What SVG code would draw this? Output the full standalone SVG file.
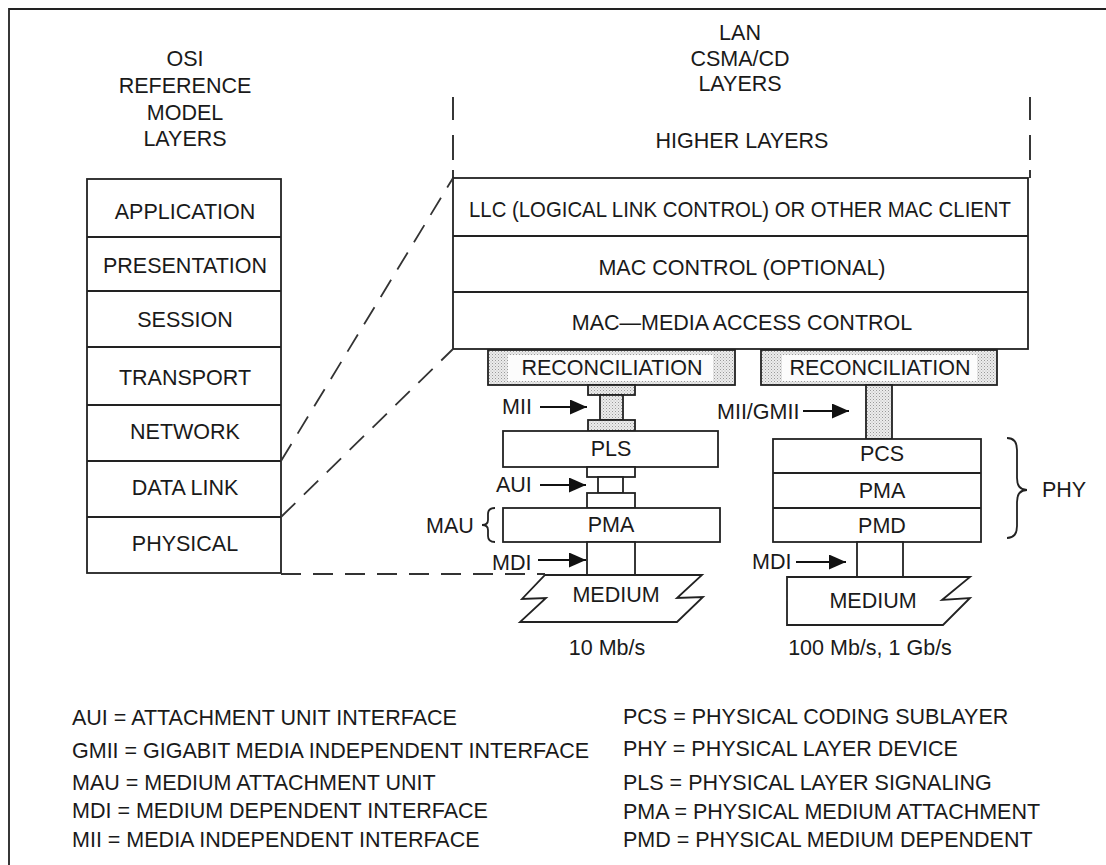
<svg xmlns="http://www.w3.org/2000/svg" width="1106" height="865" viewBox="0 0 1106 865">
<defs>
<pattern id="stip" width="3" height="3" patternUnits="userSpaceOnUse">
<rect width="3" height="3" fill="#ececec"/>
<rect x="0" y="0" width="1" height="1" fill="#999"/>
<rect x="1.5" y="1.5" width="1" height="1" fill="#b4b4b4"/>
</pattern>
<marker id="arr" markerWidth="18" markerHeight="16" refX="17" refY="7.5" orient="auto" markerUnits="userSpaceOnUse">
<path d="M0,0 L17,7.5 L0,15 z" fill="#111"/>
</marker>
</defs>
<style>
text{font-family:"Liberation Sans",Arial,sans-serif;font-size:21.5px;fill:#1a1a1a;}
.c{text-anchor:middle;}
.box{fill:#fff;stroke:#222;stroke-width:1.8;}
.st{fill:url(#stip);stroke:#222;stroke-width:1.8;}
.ln{fill:none;stroke:#222;stroke-width:1.8;}
.dash{fill:none;stroke:#333;stroke-width:1.8;stroke-dasharray:20 12;}
.arrow{fill:none;stroke:#111;stroke-width:1.8;marker-end:url(#arr);}
.inner{fill:#fcfcfc;stroke:none;}
</style>
<rect width="1106" height="865" fill="#fff"/>
<g id="border">
<path class="ln" d="M9,865 L9,9 L1106,9"/>
</g>

<g id="osi-title">
<text class="c" x="185" y="66">OSI</text>
<text class="c" x="185" y="93">REFERENCE</text>
<text class="c" x="185" y="120">MODEL</text>
<text class="c" x="185" y="146">LAYERS</text>
</g>

<g id="osi-stack">
<rect class="box" x="87" y="179" width="194" height="394"/>
<path class="ln" d="M87,237 H281 M87,291 H281 M87,347 H281 M87,405 H281 M87,461 H281 M87,517 H281"/>
<text class="c" x="185" y="219">APPLICATION</text>
<text class="c" x="185" y="273">PRESENTATION</text>
<text class="c" x="185" y="327">SESSION</text>
<text class="c" x="185" y="385">TRANSPORT</text>
<text class="c" x="185" y="439">NETWORK</text>
<text class="c" x="185" y="495">DATA LINK</text>
<text class="c" x="185" y="551">PHYSICAL</text>
</g>

<g id="lan-title">
<text class="c" x="740" y="40">LAN</text>
<text class="c" x="740" y="66">CSMA/CD</text>
<text class="c" x="740" y="91">LAYERS</text>
</g>

<g id="higher-layers">
<path class="ln" d="M453,97 V120 M453,135 V160 M453,170 V178 M1030,97 V120 M1030,135 V160 M1030,170 V178" />
<text class="c" x="742" y="148">HIGHER LAYERS</text>
</g>

<g id="lan-stack">
<rect class="box" x="453" y="178" width="575" height="171"/>
<path class="ln" d="M453,236 H1028 M453,292 H1028"/>
<text class="c" x="740" y="217" textLength="542" lengthAdjust="spacingAndGlyphs">LLC (LOGICAL LINK CONTROL) OR OTHER MAC CLIENT</text>
<text class="c" x="742" y="275">MAC CONTROL (OPTIONAL)</text>
<text class="c" x="742" y="330">MAC—MEDIA ACCESS CONTROL</text>
</g>

<g id="recon-left">
<rect class="st" x="488" y="350" width="247" height="35"/>
<rect class="inner" x="508" y="355" width="205" height="26"/>
<text class="c" x="612" y="375">RECONCILIATION</text>
</g>

<g id="mii-left">
<rect class="st" x="588" y="385" width="47" height="10"/>
<rect class="st" x="600" y="395" width="23" height="25"/>
<rect class="st" x="588" y="420" width="47" height="11"/>
</g>

<g id="pls">
<rect class="box" x="503" y="431" width="215" height="36"/>
<text class="c" x="611" y="456">PLS</text>
</g>

<g id="aui">
<rect class="box" x="587" y="467" width="48" height="10"/>
<rect class="box" x="598" y="477" width="25" height="16"/>
<rect class="box" x="587" y="493" width="48" height="15"/>
</g>

<g id="pma-left">
<rect class="box" x="503" y="508" width="217" height="34"/>
<text class="c" x="611" y="532">PMA</text>
</g>

<g id="mdi-left">
<rect class="box" x="587" y="542" width="48" height="33"/>
</g>

<g id="medium-left">
<path class="box" d="M545,575 H702 L677,598 L703,597 L677,622 H520 L546,598 L522,599 Z"/>
<text class="c" x="616" y="602">MEDIUM</text>
<text class="c" x="607" y="655">10 Mb/s</text>
</g>

<g id="recon-right">
<rect class="st" x="761" y="350" width="236" height="35"/>
<rect class="inner" x="782" y="355" width="195" height="26"/>
<text class="c" x="880" y="375">RECONCILIATION</text>
</g>

<g id="gmii">
<rect class="st" x="866" y="385" width="26" height="54"/>
</g>

<g id="phy-stack">
<rect class="box" x="773" y="439" width="208" height="103"/>
<path class="ln" d="M773,473 H981 M773,508 H981"/>
<text class="c" x="882" y="461">PCS</text>
<text class="c" x="882" y="498">PMA</text>
<text class="c" x="882" y="533">PMD</text>
</g>

<g id="mdi-right">
<rect class="box" x="857" y="542" width="46" height="35"/>
</g>

<g id="medium-right">
<path class="box" d="M787,577 H970 L942,600 L970,598 L943,625 H787 Z"/>
<text class="c" x="873" y="608">MEDIUM</text>
<text class="c" x="870" y="655">100 Mb/s, 1 Gb/s</text>
</g>

<g id="labels">
<text x="502" y="414">MII</text>
<text x="496" y="492">AUI</text>
<text x="426" y="533">MAU</text>
<text x="492" y="570">MDI</text>
<text x="717" y="419">MII/GMII</text>
<text x="752" y="569">MDI</text>
<text x="1042" y="497">PHY</text>
</g>

<g id="connectors">
<path class="dash" d="M281,461 L453,178"/>
<path class="dash" d="M281,517 L453,349"/>
<path class="dash" d="M281,574 H545"/>
<line class="arrow" x1="540" y1="407" x2="587" y2="407"/>
<line class="arrow" x1="540" y1="485" x2="586" y2="485"/>
<line class="arrow" x1="538" y1="560" x2="586" y2="560"/>
<line class="arrow" x1="803" y1="411" x2="849" y2="411"/>
<line class="arrow" x1="796" y1="562" x2="846" y2="562"/>
<path class="ln" d="M495,508 Q488,508 488,514 L488,520 Q488,525 482,525 Q488,525 488,530 L488,536 Q488,542 495,542" stroke-width="1.5"/>
<path class="ln" d="M1007,438 Q1017,438 1017,450 L1017,478 Q1017,490 1027,490 Q1017,490 1017,502 L1017,526 Q1017,538 1007,538" stroke-width="1.5"/>
</g>

<g id="legend-left">
<text x="72" y="725">AUI = ATTACHMENT UNIT INTERFACE</text>
<text x="72" y="758">GMII = GIGABIT MEDIA INDEPENDENT INTERFACE</text>
<text x="72" y="790">MAU = MEDIUM ATTACHMENT UNIT</text>
<text x="72" y="818">MDI = MEDIUM DEPENDENT INTERFACE</text>
<text x="72" y="847">MII = MEDIA INDEPENDENT INTERFACE</text>
</g>
<g id="legend-right">
<text x="623" y="724">PCS = PHYSICAL CODING SUBLAYER</text>
<text x="623" y="756">PHY = PHYSICAL LAYER DEVICE</text>
<text x="623" y="790">PLS = PHYSICAL LAYER SIGNALING</text>
<text x="623" y="819">PMA = PHYSICAL MEDIUM ATTACHMENT</text>
<text x="623" y="847">PMD = PHYSICAL MEDIUM DEPENDENT</text>
</g>
</svg>
